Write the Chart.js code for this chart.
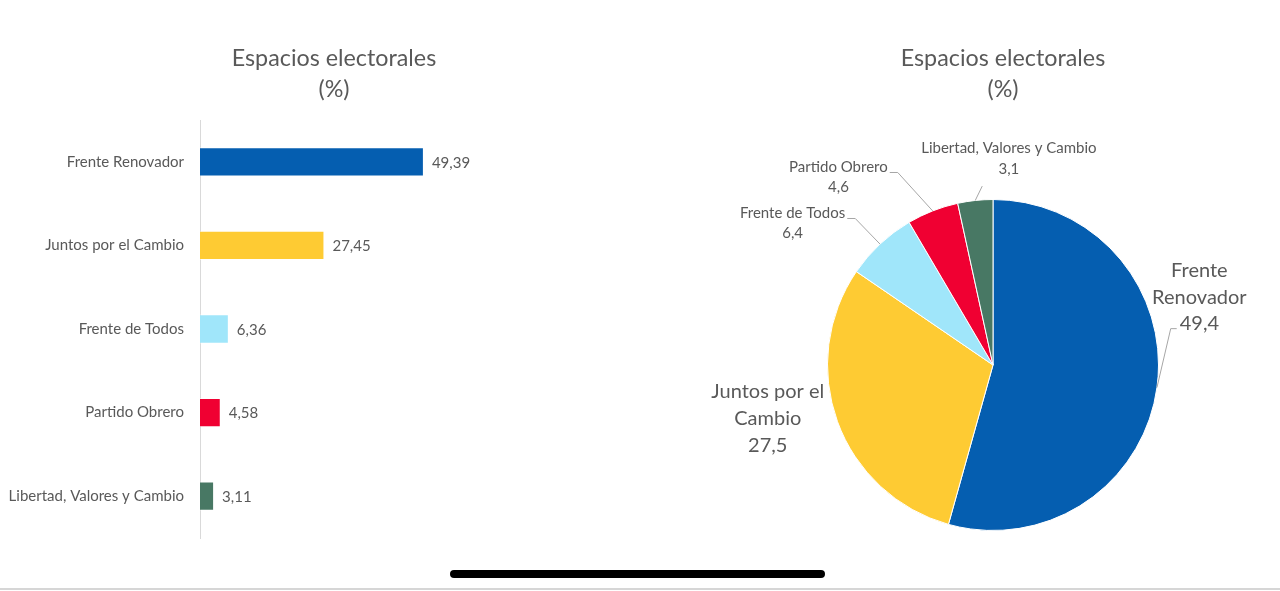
<!DOCTYPE html>
<html>
<head>
<meta charset="utf-8">
<script src="https://cdn.jsdelivr.net/npm/chart.js@4.4.1/dist/chart.umd.min.js"></script>
<style>
html,body{margin:0;padding:0;background:#fff;width:1280px;height:591px;overflow:hidden;font-family:Lato,"Open Sans",sans-serif;}
.box{position:absolute;top:0;width:640px;height:591px;}
#barBox{left:0;}
#pieBox{left:640px;}
.title{position:absolute;top:42px;width:400px;text-align:center;color:#595959;font-size:23.3px;line-height:31px;font-family:Lato,sans-serif;}
#t1{left:134px;}
#t2{left:803px;}
#home{position:absolute;left:450px;top:570px;width:375px;height:8px;border-radius:4px;background:#000;}
#rule{position:absolute;left:0;top:588px;width:1280px;height:2px;background:#d6d6d6;}
</style>
</head>
<body>
<div class="box" id="barBox"><canvas id="bar" width="640" height="591"></canvas></div>
<div class="box" id="pieBox"><canvas id="pie" width="640" height="591"></canvas></div>
<div class="title" id="t1">Espacios electorales<br>(%)</div>
<div class="title" id="t2">Espacios electorales<br>(%)</div>
<div id="home"></div>
<div id="rule"></div>
<script>
// ---- data ----
const categories = ["Frente Renovador", "Juntos por el Cambio", "Frente de Todos", "Partido Obrero", "Libertad, Valores y Cambio"];
const values = [49.39, 27.45, 6.36, 4.58, 3.11];
const colors = ["#055EB0", "#FECB33", "#A0E6FA", "#F00032", "#487864"];
const pieLabelLines = [["Frente", "Renovador"], ["Juntos por el", "Cambio"], ["Frente de Todos"], ["Partido Obrero"], ["Libertad, Valores y Cambio"]];
const xMax = 60;

const textColor = '#595959';
const fontFamily = 'Lato';

function fmt2(v){ return v.toFixed(2).replace('.', ','); }
function fmt1(v){ return (Math.round(v * 10) / 10).toFixed(1).replace('.', ','); }

const barValuePlugin = {
  id: 'barValues',
  afterDatasetsDraw(chart){
    const ctx = chart.ctx;
    const meta = chart.getDatasetMeta(0);
    ctx.save();
    ctx.font = '15px ' + fontFamily;
    ctx.fillStyle = textColor;
    ctx.textBaseline = 'middle';
    ctx.textAlign = 'left';
    meta.data.forEach((bar, i) => {
      ctx.fillText(fmt2(values[i]), bar.x + 8, bar.y + 1);
    });
    ctx.restore();
  }
};

const pieLabelPlugin = {
  id: 'pieLabels',
  afterDatasetsDraw(chart, args, opts){
    const ctx = chart.ctx;
    const meta = chart.getDatasetMeta(0);
    ctx.save();
    ctx.fillStyle = textColor;
    ctx.textAlign = 'center';
    ctx.textBaseline = 'middle';
    ctx.strokeStyle = '#a6a6a6';
    ctx.lineWidth = 1;
    meta.data.forEach((arc, i) => {
      const p = arc.getProps(['x', 'y', 'startAngle', 'endAngle', 'outerRadius'], true);
      const R = p.outerRadius;
      const mid = (p.startAngle + p.endAngle) / 2;
      const ax = p.x + R * Math.cos(mid), ay = p.y + R * Math.sin(mid);
      const L = opts.layout[i];
      const cx = p.x + L.pos[0] * R, cy = p.y + L.pos[1] * R;
      const lines = pieLabelLines[i].concat([fmt1(values[i])]);
      ctx.font = L.size + 'px ' + fontFamily;
      const n = lines.length, lh = L.lh;
      const top = cy - n * lh / 2;
      lines.forEach((t, k) => ctx.fillText(t, cx, top + lh * (k + 0.5)));
      if (L.leader){
        let ex, ey, bx, by;
        if (L.leader.side === 'bottom'){
          ex = ax + 7; ey = top + n * lh + 6; bx = ex; by = ey;
        } else {
          const k = L.leader.line;
          const w = ctx.measureText(lines[k]).width;
          ey = by = top + lh * (k + 0.5) + 5;
          if (L.leader.side === 'left'){ ex = cx - w / 2 - 3; bx = ex - 6; }
          else { ex = cx + w / 2 + 2; bx = ex + 8; }
        }
        ctx.beginPath();
        ctx.moveTo(ax, ay);
        ctx.lineTo(bx, by);
        ctx.lineTo(ex, ey);
        ctx.stroke();
      }
    });
    ctx.restore();
  }
};

new Chart(document.getElementById('bar'), {
  type: 'bar',
  data: {
    labels: categories,
    datasets: [{
      data: values,
      backgroundColor: colors,
      borderColor: 'rgba(255,255,255,0.45)',
      borderWidth: 1,
      categoryPercentage: 1,
      barPercentage: 0.35
    }]
  },
  options: {
    indexAxis: 'y',
    responsive: false,
    animation: false,
    events: [],
    layout: { padding: { top: 120, bottom: 53, left: 0, right: 168 } },
    plugins: { legend: { display: false }, tooltip: { enabled: false } },
    scales: {
      x: { display: false, min: 0, max: xMax },
      y: {
        grid: { display: false, drawTicks: false },
        border: { display: true, color: '#d9d9d9', width: 1 },
        ticks: { color: textColor, font: { family: fontFamily, size: 15 }, padding: 16 },
        afterFit(s){ s.width = 200; }
      }
    }
  },
  plugins: [barValuePlugin]
});

new Chart(document.getElementById('pie'), {
  type: 'pie',
  data: {
    labels: categories,
    datasets: [{
      data: values,
      backgroundColor: colors,
      borderColor: '#ffffff',
      borderWidth: 1
    }]
  },
  options: {
    responsive: false,
    animation: false,
    events: [],
    layout: { padding: { top: 199, bottom: 60, left: 153, right: 87 } },
    plugins: {
      legend: { display: false },
      tooltip: { enabled: false },
      pieLabels: {
        layout: [
          { pos: [1.247, -0.41], size: 20, lh: 26.5, leader: { line: 2, side: 'left' } },
          { pos: [-1.361, 0.325], size: 20, lh: 27, leader: null },
          { pos: [-1.211, -0.855], size: 15, lh: 20, leader: { line: 0, side: 'right' } },
          { pos: [-0.934, -1.133], size: 15, lh: 20, leader: { line: 0, side: 'right' } },
          { pos: [0.096, -1.244], size: 15, lh: 21, leader: { side: 'bottom' } }
        ]
      }
    }
  },
  plugins: [pieLabelPlugin]
});
</script>
</body>
</html>
